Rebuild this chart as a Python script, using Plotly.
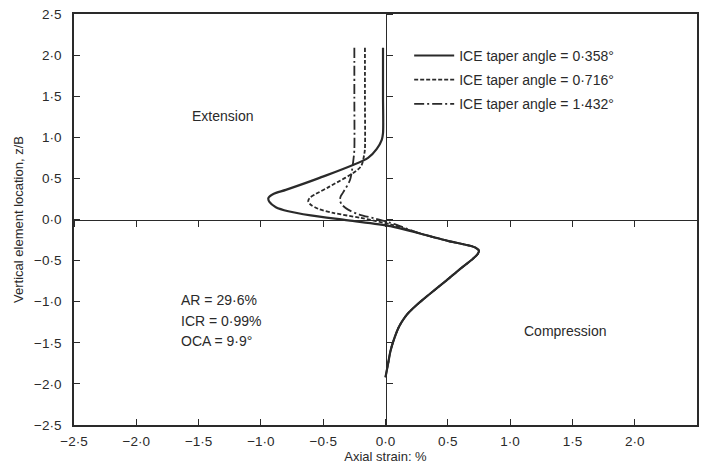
import plotly.graph_objects as go

# ---- data ----
tick_vals = [-2.5, -2.0, -1.5, -1.0, -0.5, 0.0, 0.5, 1.0, 1.5, 2.0, 2.5]
tick_text = ["\u22122\u00b75", "\u22122\u00b70", "\u22121\u00b75", "\u22121\u00b70", "\u22120\u00b75",
             "0\u00b70", "0\u00b75", "1\u00b70", "1\u00b75", "2\u00b70", "2\u00b75"]

# shared lower (compression) branch
lower_strain = [0.30, 0.50, 0.65, 0.72, 0.75, 0.74, 0.70, 0.60, 0.49, 0.36, 0.25, 0.17, 0.11,
                0.07, 0.04, 0.02, 0.0]
lower_z = [-0.18, -0.26, -0.31, -0.34, -0.38, -0.42, -0.48, -0.60, -0.74, -0.90, -1.04, -1.16, -1.30,
           -1.45, -1.60, -1.76, -1.92]

# ICE taper angle = 0.358 deg (solid)
strain_a = [-0.02, -0.02, -0.02, -0.03, -0.07, -0.14, -0.54, -0.80, -0.90, -0.94, -0.93, -0.88,
            -0.78, -0.60, -0.30, 0.04] + lower_strain
z_a = [2.09, 1.50, 1.05, 0.97, 0.86, 0.75, 0.50, 0.36, 0.31, 0.26, 0.21, 0.15,
       0.10, 0.05, -0.01, -0.08] + lower_z

# ICE taper angle = 0.716 deg (dashed)
strain_b = [-0.165, -0.165, -0.165, -0.17, -0.20, -0.45, -0.56, -0.61, -0.62, -0.60, -0.54, -0.42,
            -0.20, 0.04] + lower_strain
z_b = [2.09, 1.50, 0.86, 0.80, 0.64, 0.40, 0.31, 0.26, 0.22, 0.18, 0.13, 0.08,
       0.02, -0.06] + lower_z

# ICE taper angle = 1.432 deg (dash-dot)
strain_c = [-0.25, -0.25, -0.25, -0.255, -0.285, -0.34, -0.36, -0.365, -0.35, -0.30, -0.21,
            -0.08, 0.04] + lower_strain
z_c = [2.09, 1.50, 0.85, 0.76, 0.48, 0.33, 0.28, 0.23, 0.18, 0.12, 0.06,
       0.01, -0.04] + lower_z

series_names = ["ICE taper angle = 0\u00b7358\u00b0", "ICE taper angle = 0\u00b7716\u00b0",
                "ICE taper angle = 1\u00b7432\u00b0"]

FONT = "Liberation Sans, Arial, sans-serif"
INK = "#2a2a2a"

fig = go.Figure()
styles = [dict(dash="solid", width=2.2), dict(dash="4px,2px", width=1.8), dict(dash="10px,3px,2px,3px", width=1.8)]
for i, (xs, zs) in enumerate([(strain_a, z_a), (strain_b, z_b), (strain_c, z_c)]):
    fig.add_trace(go.Scatter(x=xs, y=zs, mode="lines", name=series_names[i],
                             line=dict(color=INK, shape="spline", smoothing=0.8, **styles[i]),
                             legendgroup=f"g{i}"))

# dummy trace to activate centre axes
fig.add_trace(go.Scatter(x=[None], y=[None], xaxis="x2", yaxis="y2", showlegend=False, hoverinfo="skip"))

axis_common = dict(range=[-2.5, 2.5], tickvals=tick_vals, ticktext=tick_text, showgrid=False,
                   zeroline=False, linecolor=INK, linewidth=1.6, tickcolor=INK, tickwidth=1.4,
                   automargin=False, tickfont=dict(family=FONT, size=13.5, color=INK))

fig.update_layout(
    width=705, height=466,
    margin=dict(l=74, r=8, t=14, b=41),
    paper_bgcolor="white", plot_bgcolor="white",
    font=dict(family=FONT, color=INK, size=13),
    xaxis=dict(**axis_common, showline=True, mirror=True, ticks="inside", ticklen=6, ticklabelstandoff=3,
               title=dict(text="Axial strain: %", font=dict(size=13, family=FONT, color=INK), standoff=4)),
    yaxis=dict(**axis_common, showline=True, mirror=True, ticks="inside", ticklen=6, ticklabelstandoff=8,
               title=dict(text="Vertical element location, z/B", font=dict(size=13, family=FONT, color=INK), standoff=8)),
    xaxis2=dict(range=[-2.5, 2.5], tickvals=tick_vals, showticklabels=False, overlaying="x",
                anchor="free", position=0.5, showline=True, linecolor=INK, linewidth=1.4, automargin=False,
                ticks="outside", ticklen=6, tickcolor=INK, tickwidth=1.4, showgrid=False, zeroline=False),
    yaxis2=dict(range=[-2.5, 2.5], tickvals=tick_vals, showticklabels=False, overlaying="y",
                anchor="free", position=0.5, side="right", showline=True, linecolor=INK, linewidth=1.4,
                automargin=False,
                ticks="outside", ticklen=6, tickcolor=INK, tickwidth=1.4, showgrid=False, zeroline=False),
    legend=dict(x=0.538, y=0.937, xanchor="left", yanchor="top", bgcolor="rgba(255,255,255,0)",
                borderwidth=0, font=dict(family=FONT, size=14, color=INK), tracegroupgap=3,
                itemwidth=40),
    showlegend=True,
)

ann_font = dict(family=FONT, size=14, color=INK)
fig.add_annotation(x=-1.31, y=1.26, text="Extension", showarrow=False, font=ann_font)
fig.add_annotation(x=1.44, y=-1.36, text="Compression", showarrow=False, font=ann_font)
for txt, yy in [("AR = 29\u00b76%", -0.98), ("ICR = 0\u00b799%", -1.23), ("OCA = 9\u00b79\u00b0", -1.48)]:
    fig.add_annotation(x=-1.66, y=yy, text=txt, showarrow=False, xanchor="left", font=ann_font)

fig.write_html("out.html", config={"displayModeBar": False},
               post_script="document.body.style.margin='0';document.body.style.overflow='hidden';")
